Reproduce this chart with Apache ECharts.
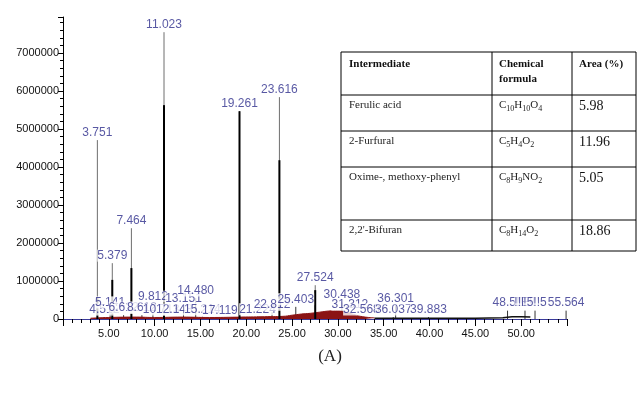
<!DOCTYPE html>
<html>
<head>
<meta charset="utf-8">
<script src="https://cdn.jsdelivr.net/npm/echarts@6/dist/echarts.min.js"></script>
<style>
  html, body { margin: 0; padding: 0; background: #fff; }
  #main { width: 637px; height: 394px; }
</style>
</head>
<body>
<div id="main"></div>
<script>
// main peaks: retention time, full (thin grey) height, dark core height
var peakTimes = [3.751, 5.379, 7.464, 11.023, 19.261, 23.616, 27.524];
var peakTops  = [4710000, 1470000, 2390000, 7550000, 5470000, 5840000, 890000];
var peakCores = [550000, 1030000, 1340000, 5630000, 5470000, 4180000, 760000];

// small peaks near the baseline (time, height, label)
var minorTimes  = [4.512, 5.141, 6.612, 8.612, 9.812, 10.713, 12.148, 13.151, 14.480, 15.214, 17.119, 21.224, 22.812, 25.403, 30.438, 31.312, 32.568, 36.037, 36.301, 39.883, 48.512, 50.415, 51.511, 54.900];
var minorHeights = [50000, 240000, 100000, 100000, 390000, 50000, 50000, 340000, 550000, 60000, 30000, 60000, 180000, 320000, 440000, 180000, 50000, 50000, 340000, 50000, 220000, 220000, 220000, 220000];
var minorLabels = ['4.512', '5.141', '6.612', '8.612', '9.812', '10.713', '12.148', '13.151', '14.480', '15.214', '17.119', '21.224', '22.812', '25.403', '30.438', '31.312', '32.568', '36.037', '36.301', '39.883', '48.5!!', '!!E!!', '!5!!5', '55.564'];

// baseline hump (dark red)
var baseTimes = [3, 5, 8, 10, 13, 16, 19, 22, 24, 25, 26, 27, 28, 29, 30, 31, 32, 33, 34];
var baseVals  = [20000, 40000, 50000, 40000, 50000, 40000, 50000, 60000, 70000, 100000, 130000, 150000, 180000, 210000, 220000, 170000, 100000, 50000, 30000];
var tailTimes = [34, 36, 40, 45, 48, 49, 50, 51];
var tailVals  = [20000, 20000, 20000, 20000, 30000, 60000, 60000, 50000];

var yTicks = [0, 1000000, 2000000, 3000000, 4000000, 5000000, 6000000, 7000000];

// table
var tableHead = ['Intermediate', 'Chemical', 'Area (%)'];
var names = ['Ferulic acid', '2-Furfural', 'Oxime-, methoxy-phenyl', '2,2\'-Bifuran'];
var formulas = ['{n|C}{s|10}{n|H}{s|10}{n|O}{s|4}', '{n|C}{s|5}{n|H}{s|4}{n|O}{s|2}', '{n|C}{s|8}{n|H}{s|9}{n|NO}{s|2}', '{n|C}{s|8}{n|H}{s|14}{n|O}{s|2}'];
var areas = ['5.98', '11.96', '5.05', '18.86'];

function pairs(xs, ys) {
  return xs.map(function (x, i) { return [x, ys[i]]; });
}

function spike(color, width) {
  return function (params, api) {
    var a = api.coord([api.value(0), 0]);
    var b = api.coord([api.value(0), api.value(1)]);
    return {
      type: 'line',
      shape: { x1: a[0], y1: a[1], x2: b[0], y2: b[1] },
      style: { stroke: color, lineWidth: width }
    };
  };
}

var serif = '"Liberation Serif", "DejaVu Serif", serif';
var labelBlue = '#2e2e8c';
var tl = 341, tr = 636, c1 = 492, c2 = 572;
var rows = [52, 95, 131, 167, 220, 251];
var g = [];
g.push({ type: 'rect', shape: { x: tl, y: rows[0], width: tr - tl, height: rows[5] - rows[0] },
  style: { fill: '#fff', stroke: '#000', lineWidth: 1 }, z: 10 });
[c1, c2].forEach(function (x) {
  g.push({ type: 'line', shape: { x1: x, y1: rows[0], x2: x, y2: rows[5] }, style: { stroke: '#000', lineWidth: 1 }, z: 11 });
});
rows.slice(1, 5).forEach(function (y) {
  g.push({ type: 'line', shape: { x1: tl, y1: y, x2: tr, y2: y }, style: { stroke: '#000', lineWidth: 1 }, z: 11 });
});
var hx = [349, 499, 579];
tableHead.forEach(function (t, i) {
  g.push({ type: 'text', x: hx[i], y: 57, z: 12,
    style: { text: i === 1 ? 'Chemical\nformula' : t, font: 'bold 11px ' + serif, fill: '#111', lineHeight: 15 } });
});
names.forEach(function (t, i) {
  var y = rows[i + 1] + 5;
  g.push({ type: 'text', x: 349, y: y, z: 12, style: { text: t, font: '11px ' + serif, fill: '#222' } });
  g.push({ type: 'text', x: 499, y: y, z: 12, style: { text: formulas[i], fill: '#222',
    rich: { n: { fontFamily: serif, fontSize: 11, verticalAlign: 'top' },
            s: { fontFamily: serif, fontSize: 8, verticalAlign: 'top', padding: [5, 0, 0, 0] } } } });
  g.push({ type: 'text', x: 579, y: y - 1, z: 12, style: { text: areas[i], font: '14px ' + serif, fill: '#111' } });
});
g.push({ type: 'text', x: 330, y: 357, z: 12,
  style: { text: '(A)', font: '17px ' + serif, fill: '#222', align: 'center', verticalAlign: 'middle' } });

var chart = echarts.init(document.getElementById('main'));
chart.setOption({
  animation: false,
  grid: { left: 63, right: 70, top: 17, bottom: 75 },
  xAxis: {
    type: 'value', min: 0, max: 55, interval: 5,
    axisLine: { lineStyle: { color: '#3a3a9a' } },
    axisTick: { length: 7, lineStyle: { color: '#000' } },
    minorTick: { show: true, splitNumber: 5, length: 4, lineStyle: { color: '#000' } },
    splitLine: { show: false },
    axisLabel: { showMinLabel: false, showMaxLabel: false, color: '#111', fontSize: 11,
      fontFamily: '"Liberation Sans", Arial, sans-serif', margin: 9,
      formatter: function (v) { return v.toFixed(2); } }
  },
  yAxis: {
    type: 'value', min: 0, max: 7950000, interval: 1000000,
    axisLine: { show: true, lineStyle: { color: '#000' } },
    axisTick: { show: true, length: 5, lineStyle: { color: '#000' } },
    minorTick: { show: true, splitNumber: 5, length: 3, lineStyle: { color: '#000' } },
    splitLine: { show: false },
    axisLabel: { showMaxLabel: false, color: '#111', fontSize: 11, margin: 4,
      fontFamily: '"Liberation Sans", Arial, sans-serif',
      formatter: function (v) { return yTicks.indexOf(v) >= 0 ? String(v) : ''; } }
  },
  series: [
    { type: 'line', data: pairs(baseTimes, baseVals), symbol: 'none', smooth: true,
      lineStyle: { color: '#8b1414', width: 1 }, areaStyle: { color: '#8b1414', opacity: 1 }, z: 3 },
    { type: 'line', data: pairs(tailTimes, tailVals), symbol: 'none',
      lineStyle: { color: '#111', width: 1.5 }, z: 3 },
    { type: 'custom', data: pairs(minorTimes, minorHeights), renderItem: spike('#333', 1), z: 2 },
    { type: 'custom', data: pairs(peakTimes, peakTops), renderItem: spike('#6e6e6e', 1), z: 4 },
    { type: 'custom', data: pairs(peakTimes, peakCores), renderItem: spike('#000', 2), z: 5 },
    { type: 'scatter', symbolSize: 1, itemStyle: { color: 'rgba(0,0,0,0)' }, z: 6,
      data: minorTimes.map(function (t, i) { return { name: minorLabels[i], value: [t, minorHeights[i]] }; }),
      label: { show: true, position: 'top', distance: 1, formatter: '{b}', color: labelBlue, fontSize: 12,
        fontFamily: '"Liberation Sans", Arial, sans-serif', backgroundColor: '#fff' } },
    { type: 'scatter', symbolSize: 1, itemStyle: { color: 'rgba(0,0,0,0)' }, z: 7,
      data: pairs(peakTimes, peakTops),
      label: { show: true, position: 'top', distance: 1, color: labelBlue, fontSize: 12,
        fontFamily: '"Liberation Sans", Arial, sans-serif', backgroundColor: '#fff',
        formatter: function (p) { return p.value[0].toFixed(3); } } }
  ],
  graphic: g
});
</script>
</body>
</html>
